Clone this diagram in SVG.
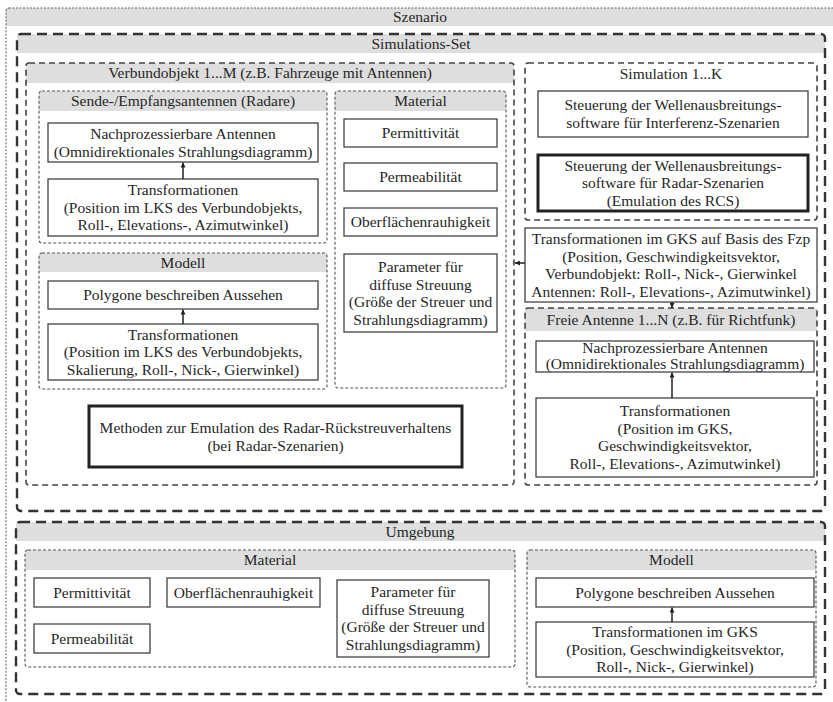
<svg xmlns="http://www.w3.org/2000/svg" width="833" height="702" viewBox="0 0 833 702" font-family="'Liberation Serif', 'Times New Roman', serif">
<defs>
<style>
text{font-family:'Liberation Serif','Times New Roman',Times,serif;font-size:15.5px;fill:#262626;text-anchor:middle}
.band{fill:#dedede;stroke:none}
.box{fill:#fff;stroke:#444;stroke-width:1.3}
.thick{fill:#fff;stroke:#222;stroke-width:3}
.dot{fill:none;stroke:#666;stroke-width:1.1;stroke-dasharray:2 1.5}
.xl{fill:none;stroke:#333;stroke-width:2.4;stroke-dasharray:10 6}
.md{fill:none;stroke:#444;stroke-width:1.6;stroke-dasharray:6 4}
.sm{fill:none;stroke:#555;stroke-width:1.1;stroke-dasharray:3 2}
.con{stroke:#222;stroke-width:1.5;fill:none;marker-end:url(#ah)}
</style>
<marker id="ah" viewBox="0 0 10 10" refX="10" refY="5" markerWidth="5" markerHeight="5" orient="auto" markerUnits="userSpaceOnUse"><path d="M0,0 L10,5 L0,10 z" fill="#222"/></marker>
</defs>
<rect width="833" height="702" fill="#fff"/>

<g id="szenario">
<rect class="band" x="6" y="8" width="830" height="18"/>
<rect class="dot" x="6" y="8" width="830" height="710" rx="3"/>
<text x="420" y="22">Szenario</text>
</g>

<g id="simulations-set">
<rect class="band" x="17" y="34" width="808" height="19"/>
<rect class="xl" x="17" y="34" width="808" height="477" rx="4"/>
<text x="421" y="49">Simulations-Set</text>
</g>

<g id="verbundobjekt">
<rect class="band" x="26" y="63" width="488" height="20"/>
<rect class="md" x="26" y="63" width="488" height="422" rx="3"/>
<text x="270" y="78">Verbundobjekt 1...M (z.B. Fahrzeuge mit Antennen)</text>
</g>

<g id="sende-empfangsantennen">
<rect class="band" x="39" y="91" width="288" height="20"/>
<rect class="sm" x="39" y="91" width="288" height="152" rx="3"/>
<text x="183" y="106">Sende-/Empfangsantennen (Radare)</text>
</g>
<g id="va-nachprozessierbar">
<rect class="box" x="48" y="123" width="270" height="39"/>
<text x="183" y="139">Nachprozessierbare Antennen</text>
<text x="183" y="156.5">(Omnidirektionales Strahlungsdiagramm)</text>
</g>
<g id="va-transformationen">
<rect class="box" x="48" y="179" width="270" height="57"/>
<text x="183" y="195">Transformationen</text>
<text x="183" y="212.5">(Position im LKS des Verbundobjekts,</text>
<text x="183" y="230">Roll-, Elevations-, Azimutwinkel)</text>
</g>

<g id="vo-material">
<rect class="band" x="335" y="91" width="171" height="20"/>
<rect class="sm" x="335" y="91" width="171" height="297" rx="3"/>
<text x="420.5" y="106">Material</text>
</g>
<g id="vo-permittivitaet">
<rect class="box" x="344" y="119" width="153" height="28"/>
<text x="420.5" y="138">Permittivität</text>
</g>
<g id="vo-permeabilitaet">
<rect class="box" x="344" y="163" width="153" height="28"/>
<text x="420.5" y="182">Permeabilität</text>
</g>
<g id="vo-oberflaeche">
<rect class="box" x="344" y="208" width="153" height="28"/>
<text x="420.5" y="227">Oberflächenrauhigkeit</text>
</g>
<g id="vo-parameter">
<rect class="box" x="344" y="254" width="153" height="78"/>
<text x="420.5" y="272">Parameter für</text>
<text x="420.5" y="289.5">diffuse Streuung</text>
<text x="420.5" y="307">(Größe der Streuer und</text>
<text x="420.5" y="324.5">Strahlungsdiagramm)</text>
</g>

<g id="vo-modell">
<rect class="band" x="39" y="253" width="288" height="19"/>
<rect class="sm" x="39" y="253" width="288" height="136" rx="3"/>
<text x="183" y="268">Modell</text>
</g>
<g id="vo-polygone">
<rect class="box" x="48" y="281" width="270" height="28"/>
<text x="183" y="300">Polygone beschreiben Aussehen</text>
</g>
<g id="vo-transformationen">
<rect class="box" x="48" y="324" width="270" height="56"/>
<text x="183" y="339.5">Transformationen</text>
<text x="183" y="357">(Position im LKS des Verbundobjekts,</text>
<text x="183" y="374.5">Skalierung, Roll-, Nick-, Gierwinkel)</text>
</g>

<g id="methoden">
<rect class="thick" x="89" y="406" width="373" height="61"/>
<text x="275.5" y="433">Methoden zur Emulation des Radar-Rückstreuverhaltens</text>
<text x="275.5" y="450.5">(bei Radar-Szenarien)</text>
</g>

<g id="simulation">
<rect class="md" x="525" y="63" width="292" height="157" rx="3"/>
<text x="671" y="79">Simulation 1...K</text>
</g>
<g id="steuerung-interferenz">
<rect class="box" x="538" y="91" width="270" height="46"/>
<text x="673" y="110">Steuerung der Wellenausbreitungs-</text>
<text x="673" y="127.5">software für Interferenz-Szenarien</text>
</g>
<g id="steuerung-radar">
<rect class="thick" x="538" y="155" width="270" height="56"/>
<text x="673" y="170.5">Steuerung der Wellenausbreitungs-</text>
<text x="673" y="188">software für Radar-Szenarien</text>
<text x="673" y="205.5">(Emulation des RCS)</text>
</g>

<g id="transformationen-gks">
<rect class="box" x="525" y="228" width="292" height="74"/>
<text x="671" y="244">Transformationen im GKS auf Basis des Fzp</text>
<text x="671" y="261.5">(Position, Geschwindigkeitsvektor,</text>
<text x="671" y="279">Verbundobjekt: Roll-, Nick-, Gierwinkel</text>
<text x="671" y="296.5">Antennen: Roll-, Elevations-, Azimutwinkel)</text>
</g>

<g id="freie-antenne">
<rect class="band" x="525" y="308" width="292" height="23"/>
<rect class="md" x="525" y="308" width="292" height="177" rx="3"/>
<text x="671" y="325">Freie Antenne 1...N (z.B. für Richtfunk)</text>
</g>
<g id="fa-nachprozessierbar">
<rect class="box" x="536" y="341" width="278" height="31"/>
<text x="675" y="353">Nachprozessierbare Antennen</text>
<text x="675" y="369">(Omnidirektionales Strahlungsdiagramm)</text>
</g>
<g id="fa-transformationen">
<rect class="box" x="536" y="398" width="278" height="79"/>
<text x="675" y="416">Transformationen</text>
<text x="675" y="433.5">(Position im GKS,</text>
<text x="675" y="451">Geschwindigkeitsvektor,</text>
<text x="675" y="468.5">Roll-, Elevations-, Azimutwinkel)</text>
</g>

<g id="umgebung">
<rect class="band" x="16" y="522" width="809" height="19"/>
<rect class="xl" x="16" y="522" width="809" height="172" rx="4"/>
<text x="420" y="537">Umgebung</text>
</g>
<g id="u-material">
<rect class="band" x="25" y="550" width="490" height="20"/>
<rect class="sm" x="25" y="550" width="490" height="117" rx="3"/>
<text x="270" y="565">Material</text>
</g>
<g id="u-permittivitaet">
<rect class="box" x="34" y="578" width="116" height="29"/>
<text x="92" y="597.5">Permittivität</text>
</g>
<g id="u-permeabilitaet">
<rect class="box" x="34" y="624" width="116" height="29"/>
<text x="92" y="643.5">Permeabilität</text>
</g>
<g id="u-oberflaeche">
<rect class="box" x="167" y="578" width="153" height="29"/>
<text x="243.5" y="597.5">Oberflächenrauhigkeit</text>
</g>
<g id="u-parameter">
<rect class="box" x="337" y="580" width="152" height="77"/>
<text x="413" y="597">Parameter für</text>
<text x="413" y="614.5">diffuse Streuung</text>
<text x="413" y="632">(Größe der Streuer und</text>
<text x="413" y="649.5">Strahlungsdiagramm)</text>
</g>
<g id="u-modell">
<rect class="band" x="527" y="550" width="289" height="20"/>
<rect class="sm" x="527" y="550" width="289" height="137" rx="3"/>
<text x="671.5" y="565">Modell</text>
</g>
<g id="u-polygone">
<rect class="box" x="536" y="578" width="278" height="29"/>
<text x="675" y="597.5">Polygone beschreiben Aussehen</text>
</g>
<g id="u-transformationen">
<rect class="box" x="536" y="622" width="278" height="55"/>
<text x="675" y="637">Transformationen im GKS</text>
<text x="675" y="654.5">(Position, Geschwindigkeitsvektor,</text>
<text x="675" y="672">Roll-, Nick-, Gierwinkel)</text>
</g>

<g id="connectors">
<line class="con" x1="183" y1="179" x2="183" y2="162.5"/>
<line class="con" x1="183" y1="324" x2="183" y2="309.5"/>
<line class="con" x1="525" y1="263" x2="515" y2="263"/>
<line class="con" x1="672" y1="302" x2="672" y2="308"/>
<line class="con" x1="672" y1="398" x2="672" y2="372.5"/>
<line class="con" x1="672" y1="622" x2="672" y2="607.5"/>
</g>
</svg>
